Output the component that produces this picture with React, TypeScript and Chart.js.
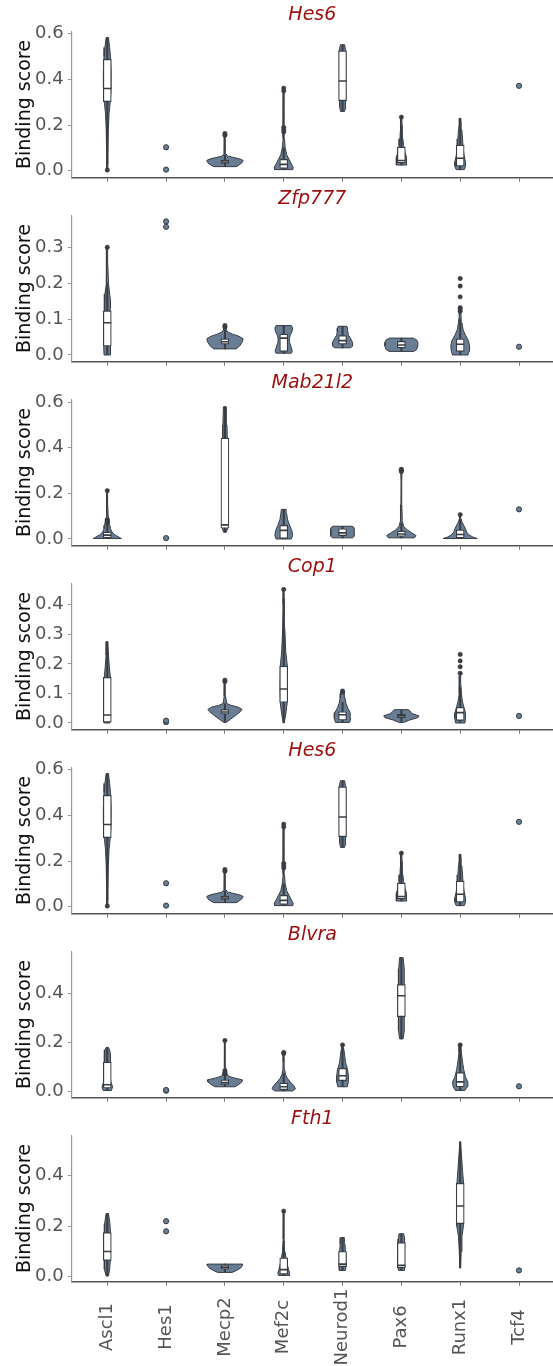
import { useEffect, useRef } from "react";
import { Chart, registerables } from "chart.js";

Chart.register(...registerables);

const FONT = "'DejaVu Sans', 'Liberation Sans', sans-serif";
const VIOLIN_FILL = "#697e94";
const DARK = "#383d43";

const TFS = ["Ascl1", "Hes1", "Mecp2", "Mef2c", "Neurod1", "Pax6", "Runx1", "Tcf4"];
const GENES = ["Hes6", "Zfp777", "Mab21l2", "Cop1", "Hes6", "Blvra", "Fth1"];

// violin profiles: [binding score, half width] from bottom to top
type Profile = number[][] | null;

// ---------- Hes6 ----------
const hes6Violins: Profile[] = [
  [[0.0, 0.006], [0.08, 0.01], [0.18, 0.018], [0.25, 0.03], [0.3, 0.05], [0.36, 0.065], [0.44, 0.065], [0.5, 0.055], [0.54, 0.04], [0.583, 0.02]],
  null,
  [[0.018, 0.19], [0.025, 0.24], [0.035, 0.29], [0.045, 0.31], [0.052, 0.25], [0.058, 0.15], [0.064, 0.05], [0.075, 0.015], [0.12, 0.008], [0.163, 0.005]],
  [[0.005, 0.155], [0.015, 0.16], [0.03, 0.13], [0.05, 0.09], [0.07, 0.05], [0.1, 0.025], [0.14, 0.012], [0.2, 0.01], [0.3, 0.008], [0.362, 0.005]],
  [[0.26, 0.035], [0.28, 0.055], [0.31, 0.05], [0.4, 0.045], [0.5, 0.05], [0.53, 0.055], [0.552, 0.035]],
  [[0.025, 0.08], [0.04, 0.09], [0.06, 0.085], [0.08, 0.06], [0.11, 0.04], [0.14, 0.025], [0.18, 0.015], [0.235, 0.008]],
  [[0.005, 0.07], [0.02, 0.09], [0.04, 0.09], [0.07, 0.065], [0.1, 0.05], [0.14, 0.04], [0.18, 0.028], [0.21, 0.015], [0.23, 0.006]],
  null,
];
const hes6Q1 = [0.303, null, 0.032, 0.01, 0.307, 0.035, 0.02, null];
const hes6Median = [0.36, null, 0.038, 0.028, 0.393, 0.045, 0.055, null];
const hes6Q3 = [0.488, null, 0.047, 0.05, 0.525, 0.103, 0.112, null];
const hes6WhiskerLow = [0.03, null, 0.018, 0.005, 0.26, 0.025, 0.005, null];
const hes6WhiskerHigh = [0.583, null, 0.07, 0.1, 0.552, 0.2, 0.23, null];
const hes6Fliers = [[0.003], [], [0.155, 0.163], [0.17, 0.18, 0.19, 0.35, 0.362], [], [0.235], [], []];
const hes6Singles = [[], [0.103, 0.005], [], [], [], [], [], [0.372]];

// ---------- Zfp777 ----------
const zfp777Violins: Profile[] = [
  [[0.0, 0.055], [0.02, 0.06], [0.05, 0.05], [0.1, 0.045], [0.13, 0.05], [0.15, 0.055], [0.17, 0.04], [0.2, 0.02], [0.25, 0.01], [0.3, 0.006]],
  null,
  [[0.017, 0.19], [0.025, 0.25], [0.035, 0.29], [0.045, 0.31], [0.052, 0.24], [0.058, 0.13], [0.064, 0.05], [0.07, 0.025], [0.08, 0.015]],
  [[0.005, 0.13], [0.01, 0.145], [0.02, 0.13], [0.035, 0.1], [0.045, 0.095], [0.055, 0.11], [0.065, 0.14], [0.075, 0.15], [0.082, 0.13]],
  [[0.02, 0.14], [0.025, 0.17], [0.035, 0.17], [0.045, 0.14], [0.055, 0.1], [0.065, 0.09], [0.075, 0.085], [0.08, 0.075]],
  [[0.01, 0.21], [0.015, 0.26], [0.025, 0.28], [0.035, 0.28], [0.042, 0.26], [0.047, 0.2]],
  [[0.0, 0.13], [0.01, 0.15], [0.025, 0.16], [0.04, 0.14], [0.055, 0.09], [0.07, 0.05], [0.09, 0.03], [0.11, 0.015], [0.13, 0.008]],
  null,
];
const zfp777Q1 = [0.025, null, 0.03, 0.01, 0.03, 0.02, 0.01, null];
const zfp777Median = [0.09, null, 0.037, 0.047, 0.04, 0.028, 0.03, null];
const zfp777Q3 = [0.123, null, 0.045, 0.058, 0.054, 0.038, 0.045, null];
const zfp777WhiskerLow = [0.0, null, 0.017, 0.005, 0.02, 0.01, 0.0, null];
const zfp777WhiskerHigh = [0.2, null, 0.07, 0.082, 0.08, 0.047, 0.1, null];
const zfp777Fliers = [[0.3], [], [0.078, 0.082], [], [], [], [0.122, 0.128, 0.132, 0.162, 0.192, 0.213], []];
const zfp777Singles = [[], [0.372, 0.357], [], [], [], [], [], [0.023]];

// ---------- Mab21l2 ----------
const mab21l2Violins: Profile[] = [
  [[0.002, 0.24], [0.008, 0.2], [0.018, 0.13], [0.03, 0.08], [0.045, 0.055], [0.06, 0.045], [0.08, 0.03], [0.1, 0.015], [0.15, 0.008], [0.212, 0.005]],
  null,
  [[0.03, 0.025], [0.045, 0.045], [0.06, 0.045], [0.1, 0.04], [0.3, 0.035], [0.44, 0.04], [0.5, 0.035], [0.58, 0.025]],
  [[0.0, 0.13], [0.015, 0.15], [0.035, 0.14], [0.06, 0.1], [0.085, 0.065], [0.11, 0.05], [0.13, 0.04]],
  [[0.005, 0.17], [0.012, 0.2], [0.03, 0.2], [0.045, 0.2], [0.052, 0.19], [0.056, 0.16]],
  [[0.005, 0.22], [0.015, 0.25], [0.028, 0.17], [0.04, 0.1], [0.055, 0.04], [0.08, 0.015], [0.15, 0.008], [0.25, 0.006], [0.3, 0.012]],
  [[0.002, 0.29], [0.008, 0.22], [0.018, 0.15], [0.03, 0.11], [0.045, 0.09], [0.06, 0.06], [0.075, 0.03], [0.09, 0.012], [0.107, 0.005]],
  null,
];
const mab21l2Q1 = [0.005, null, 0.047, 0.003, 0.015, 0.012, 0.005, null];
const mab21l2Median = [0.017, null, 0.062, 0.038, 0.027, 0.022, 0.02, null];
const mab21l2Q3 = [0.03, null, 0.442, 0.06, 0.045, 0.035, 0.04, null];
const mab21l2WhiskerLow = [0.002, null, 0.03, 0.0, 0.005, 0.005, 0.002, null];
const mab21l2WhiskerHigh = [0.065, null, 0.58, 0.13, 0.056, 0.07, 0.09, null];
const mab21l2Fliers = [[0.07, 0.075, 0.08, 0.085, 0.212], [], [], [], [], [0.296, 0.3, 0.303, 0.306], [0.107], []];
const mab21l2Singles = [[], [0.004], [], [], [], [], [], [0.13]];

// ---------- Cop1 ----------
const cop1Violins: Profile[] = [
  [[0.0, 0.045], [0.03, 0.055], [0.08, 0.055], [0.155, 0.05], [0.19, 0.035], [0.23, 0.02], [0.275, 0.006]],
  null,
  [[0.002, 0.02], [0.012, 0.09], [0.025, 0.18], [0.038, 0.26], [0.046, 0.29], [0.054, 0.22], [0.06, 0.1], [0.066, 0.03], [0.09, 0.012], [0.145, 0.006]],
  [[0.0, 0.008], [0.03, 0.035], [0.07, 0.06], [0.12, 0.065], [0.19, 0.06], [0.24, 0.035], [0.32, 0.018], [0.4, 0.01], [0.45, 0.005]],
  [[0.002, 0.12], [0.015, 0.14], [0.035, 0.13], [0.05, 0.09], [0.065, 0.06], [0.085, 0.04], [0.1, 0.03], [0.108, 0.02]],
  [[0.002, 0.04], [0.01, 0.14], [0.018, 0.28], [0.024, 0.3], [0.032, 0.18], [0.04, 0.15], [0.045, 0.12]],
  [[0.0, 0.08], [0.015, 0.09], [0.035, 0.09], [0.055, 0.06], [0.075, 0.035], [0.1, 0.02], [0.13, 0.012], [0.16, 0.008]],
  null,
];
const cop1Q1 = [0.003, null, 0.03, 0.07, 0.01, 0.017, 0.009, null];
const cop1Median = [0.027, null, 0.037, 0.115, 0.028, 0.024, 0.035, null];
const cop1Q3 = [0.154, null, 0.045, 0.192, 0.038, 0.03, 0.053, null];
const cop1WhiskerLow = [0.0, null, 0.005, 0.0, 0.002, 0.005, 0.0, null];
const cop1WhiskerHigh = [0.275, null, 0.065, 0.42, 0.07, 0.045, 0.12, null];
const cop1Fliers = [[], [], [0.14, 0.145], [0.452], [0.104, 0.108], [], [0.168, 0.19, 0.21, 0.232], []];
const cop1Singles = [[], [0.003, 0.008], [], [], [], [], [], [0.024]];

// ---------- Blvra ----------
const blvraViolins: Profile[] = [
  [[0.005, 0.07], [0.02, 0.09], [0.04, 0.06], [0.08, 0.045], [0.12, 0.05], [0.15, 0.055], [0.17, 0.04], [0.18, 0.02]],
  null,
  [[0.02, 0.17], [0.03, 0.24], [0.04, 0.29], [0.048, 0.3], [0.055, 0.17], [0.063, 0.06], [0.075, 0.03], [0.1, 0.01], [0.15, 0.007], [0.21, 0.005]],
  [[0.003, 0.15], [0.012, 0.2], [0.025, 0.17], [0.04, 0.11], [0.055, 0.06], [0.07, 0.03], [0.09, 0.015], [0.12, 0.01], [0.16, 0.005]],
  [[0.02, 0.08], [0.04, 0.1], [0.065, 0.1], [0.09, 0.085], [0.12, 0.05], [0.15, 0.035], [0.175, 0.02], [0.19, 0.008]],
  [[0.215, 0.03], [0.25, 0.05], [0.3, 0.05], [0.4, 0.05], [0.45, 0.05], [0.5, 0.045], [0.545, 0.03]],
  [[0.005, 0.08], [0.02, 0.12], [0.04, 0.13], [0.06, 0.09], [0.09, 0.06], [0.12, 0.04], [0.16, 0.02], [0.19, 0.008]],
  null,
];
const blvraQ1 = [0.015, null, 0.03, 0.008, 0.045, 0.305, 0.02, null];
const blvraMedian = [0.028, null, 0.037, 0.02, 0.065, 0.39, 0.04, null];
const blvraQ3 = [0.12, null, 0.048, 0.035, 0.095, 0.435, 0.078, null];
const blvraWhiskerLow = [0.005, null, 0.02, 0.003, 0.02, 0.215, 0.005, null];
const blvraWhiskerHigh = [0.18, null, 0.07, 0.075, 0.19, 0.545, 0.19, null];
const blvraFliers = [[], [], [0.072, 0.078, 0.085, 0.208], [0.155, 0.16], [0.19], [], [0.19], []];
const blvraSingles = [[], [0.004, 0.007], [], [], [], [], [], [0.022]];

// ---------- Fth1 ----------
const fth1Violins: Profile[] = [
  [[0.003, 0.02], [0.03, 0.04], [0.06, 0.05], [0.1, 0.055], [0.17, 0.055], [0.21, 0.045], [0.25, 0.02]],
  null,
  [[0.017, 0.12], [0.025, 0.2], [0.035, 0.27], [0.045, 0.3], [0.05, 0.3]],
  [[0.005, 0.09], [0.015, 0.1], [0.03, 0.08], [0.05, 0.06], [0.075, 0.04], [0.1, 0.02], [0.15, 0.01], [0.2, 0.007], [0.26, 0.005]],
  [[0.025, 0.05], [0.05, 0.06], [0.1, 0.05], [0.13, 0.04], [0.155, 0.03]],
  [[0.025, 0.05], [0.05, 0.06], [0.13, 0.055], [0.15, 0.05], [0.17, 0.04]],
  [[0.035, 0.005], [0.1, 0.015], [0.16, 0.03], [0.2, 0.055], [0.28, 0.06], [0.37, 0.055], [0.42, 0.04], [0.47, 0.025], [0.535, 0.005]],
  null,
];
const fth1Q1 = [0.065, null, 0.03, 0.01, 0.04, 0.035, 0.21, null];
const fth1Median = [0.1, null, 0.038, 0.028, 0.05, 0.045, 0.28, null];
const fth1Q3 = [0.175, null, 0.047, 0.075, 0.1, 0.135, 0.37, null];
const fth1WhiskerLow = [0.003, null, 0.017, 0.005, 0.025, 0.025, 0.035, null];
const fth1WhiskerHigh = [0.25, null, 0.05, 0.14, 0.155, 0.17, 0.535, null];
const fth1Fliers = [[], [], [], [0.26], [], [], [], []];
const fth1Singles = [[], [0.22, 0.18], [], [], [], [], [], [0.025]];

// y ranges & ticks per panel
const Y_MIN = [-0.0305, -0.0187, -0.0294, -0.0227, -0.0305, -0.0244, -0.0198];
const Y_MAX = [0.61, 0.3886, 0.612, 0.4717, 0.61, 0.57, 0.5596];
const Y_TICKS = [
  [0, 0.2, 0.4, 0.6],
  [0, 0.1, 0.2, 0.3],
  [0, 0.2, 0.4, 0.6],
  [0, 0.1, 0.2, 0.3, 0.4],
  [0, 0.2, 0.4, 0.6],
  [0, 0.2, 0.4],
  [0, 0.2, 0.4],
];

const PANEL_DATA = [
  { violins: hes6Violins, q1: hes6Q1, median: hes6Median, q3: hes6Q3, lo: hes6WhiskerLow, hi: hes6WhiskerHigh, fliers: hes6Fliers, singles: hes6Singles },
  { violins: zfp777Violins, q1: zfp777Q1, median: zfp777Median, q3: zfp777Q3, lo: zfp777WhiskerLow, hi: zfp777WhiskerHigh, fliers: zfp777Fliers, singles: zfp777Singles },
  { violins: mab21l2Violins, q1: mab21l2Q1, median: mab21l2Median, q3: mab21l2Q3, lo: mab21l2WhiskerLow, hi: mab21l2WhiskerHigh, fliers: mab21l2Fliers, singles: mab21l2Singles },
  { violins: cop1Violins, q1: cop1Q1, median: cop1Median, q3: cop1Q3, lo: cop1WhiskerLow, hi: cop1WhiskerHigh, fliers: cop1Fliers, singles: cop1Singles },
  { violins: hes6Violins, q1: hes6Q1, median: hes6Median, q3: hes6Q3, lo: hes6WhiskerLow, hi: hes6WhiskerHigh, fliers: hes6Fliers, singles: hes6Singles },
  { violins: blvraViolins, q1: blvraQ1, median: blvraMedian, q3: blvraQ3, lo: blvraWhiskerLow, hi: blvraWhiskerHigh, fliers: blvraFliers, singles: blvraSingles },
  { violins: fth1Violins, q1: fth1Q1, median: fth1Median, q3: fth1Q3, lo: fth1WhiskerLow, hi: fth1WhiskerHigh, fliers: fth1Fliers, singles: fth1Singles },
];

const PANEL_H = 184;
const LAST_H = 262;

function buildDatasets(p: any): any[] {
  const ds: any[] = [];
  p.violins.forEach((prof: Profile, i: number) => {
    if (!prof) return;
    const right = prof.map(([v, w]) => ({ x: i + w, y: v }));
    const left = prof.slice().reverse().map(([v, w]) => ({ x: i - w, y: v }));
    ds.push({
      type: "line",
      data: [...right, ...left, right[0]],
      borderColor: DARK,
      borderWidth: 1,
      borderJoinStyle: "round",
      backgroundColor: VIOLIN_FILL,
      fill: "shape",
      pointRadius: 0,
      tension: 0,
      order: 5,
    });
  });
  const whisk: any[] = [];
  const box: any[] = [];
  const med: any[] = [];
  TFS.forEach((_, i) => {
    if (p.q1[i] == null) return;
    whisk.push({ x: i, y: [p.lo[i], p.hi[i]] });
    box.push({ x: i, y: [p.q1[i], p.q3[i]] });
    med.push({ x: i, y: p.median[i] });
  });
  ds.push({ type: "bar", data: whisk, grouped: false, barThickness: 1.4, backgroundColor: DARK, borderWidth: 0, order: 4 });
  ds.push({ type: "bar", data: box, grouped: false, barThickness: 8, backgroundColor: "#ffffff", borderColor: DARK, borderWidth: 1.2, borderSkipped: false, order: 3 });
  ds.push({ type: "scatter", data: med, pointStyle: "line", pointRadius: 4, borderColor: DARK, borderWidth: 1.6, order: 2 });
  const fl: any[] = [];
  p.fliers.forEach((arr: number[], i: number) => arr.forEach((v) => fl.push({ x: i, y: v })));
  ds.push({ type: "scatter", data: fl, pointRadius: 2.2, backgroundColor: DARK, borderColor: DARK, borderWidth: 0.5, order: 1 });
  const sg: any[] = [];
  p.singles.forEach((arr: number[], i: number) => arr.forEach((v) => sg.push({ x: i, y: v })));
  ds.push({ type: "scatter", data: sg, pointRadius: 2.6, backgroundColor: VIOLIN_FILL, borderColor: DARK, borderWidth: 1, order: 0 });
  return ds;
}

const xLabelPlugin = {
  id: "xLabels",
  afterDraw(chart: any, _args: any, opts: any) {
    if (!opts || !opts.show) return;
    const s = chart.scales.x;
    const ctx = chart.ctx;
    ctx.save();
    ctx.font = `18px ${FONT}`;
    ctx.fillStyle = "#555555";
    ctx.textAlign = "center";
    ctx.textBaseline = "middle";
    TFS.forEach((t, i) => {
      const x = s.getPixelForValue(i);
      ctx.save();
      ctx.translate(x, s.top + opts.offset);
      ctx.rotate(-Math.PI / 2);
      ctx.fillText(t, 0, 0);
      ctx.restore();
    });
    ctx.restore();
  },
};

function Panel({ index }: { index: number }) {
  const ref = useRef<HTMLCanvasElement>(null);
  const last = index === GENES.length - 1;
  const h = last ? LAST_H : PANEL_H;
  useEffect(() => {
    const p = PANEL_DATA[index];
    const chart = new Chart(ref.current as HTMLCanvasElement, {
      type: "scatter",
      data: { datasets: buildDatasets(p) },
      plugins: [xLabelPlugin],
      options: {
        responsive: false,
        animation: false,
        devicePixelRatio: 1,
        layout: { padding: 0, autoPadding: false },
        plugins: {
          legend: { display: false },
          tooltip: { enabled: false },
          title: {
            display: true,
            text: GENES[index],
            fullSize: false,
            color: "#9a0f0f",
            font: { family: FONT, size: 19, style: "italic", weight: "normal" },
            padding: { top: 3.6, bottom: 5.1 },
          },
          xLabels: { show: last, offset: 45.3 },
        } as any,
        scales: {
          x: {
            type: "linear",
            min: -0.605,
            max: 7.578,
            offset: false,
            afterBuildTicks: (s: any) => {
              s.ticks = TFS.map((_, i) => ({ value: i }));
            },
            afterFit: (s: any) => {
              s.height = h - 177.7;
              s.paddingLeft = 0;
              s.paddingRight = 0;
            },
            ticks: { display: false },
            grid: { display: true, offset: false, drawOnChartArea: false, drawTicks: true, tickLength: 4, color: "#777777", lineWidth: 1 },
            border: { display: true, color: "#555555", width: 1.5 },
          },
          y: {
            type: "linear",
            min: Y_MIN[index],
            max: Y_MAX[index],
            beginAtZero: false,
            afterBuildTicks: (s: any) => {
              s.ticks = Y_TICKS[index].map((v) => ({ value: v }));
            },
            afterFit: (s: any) => {
              s.width = 71.7;
              s.paddingTop = 0;
              s.paddingBottom = 0;
            },
            ticks: {
              color: "#555555",
              font: { family: FONT, size: 18 },
              padding: 4,
              callback: (v: any) => Number(v).toFixed(1),
            },
            grid: { display: true, drawOnChartArea: false, drawTicks: true, tickLength: 4, color: "#9a9a9a", lineWidth: 1 },
            border: { display: true, color: "#9a9a9a", width: 1.2 },
            title: {
              display: true,
              text: "Binding score",
              color: "#111111",
              font: { family: FONT, size: 19 },
              padding: { top: 14, bottom: 0 },
            },
          },
        },
      } as any,
    });
    return () => chart.destroy();
  }, [index, h, last]);
  return <canvas ref={ref} width={553} height={h} style={{ display: "block", width: 553, height: h }} />;
}

export default function App() {
  return (
    <div style={{ position: "absolute", left: 0, top: 0, width: 553, height: 1366, background: "#ffffff", overflow: "hidden" }}>
      {GENES.map((_, i) => (
        <Panel key={i} index={i} />
      ))}
    </div>
  );
}
